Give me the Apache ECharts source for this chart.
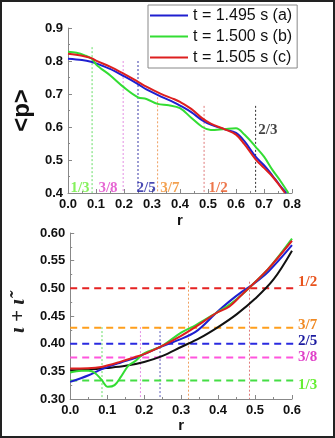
<!DOCTYPE html>
<html>
<head>
<meta charset="utf-8">
<script src="https://cdn.jsdelivr.net/npm/echarts@6/dist/echarts.min.js"></script>
<style>
  html, body { margin: 0; padding: 0; background: #fff; }
  #main { width: 335px; height: 438px; }
  #frame { position: absolute; left: 0; top: 0; width: 335px; height: 438px;
           box-sizing: border-box; border: 2px solid #222; pointer-events: none; }
</style>
</head>
<body>
<div id="main"></div>
<div id="frame"></div>
<script>
// ---- top panel: <p> vs r ----
const pRadiusA = [0, 0.05, 0.086, 0.1, 0.15, 0.2, 0.25, 0.28, 0.33, 0.38, 0.4, 0.44, 0.48, 0.51, 0.56, 0.6, 0.63, 0.67, 0.7, 0.73, 0.755, 0.78]
const pValueA  = [0.807, 0.803, 0.797, 0.793, 0.776, 0.754, 0.730, 0.714, 0.693, 0.674, 0.665, 0.645, 0.620, 0.607, 0.593, 0.582, 0.557, 0.510, 0.484, 0.453, 0.425, 0.400]
const pRadiusB = [0, 0.03, 0.06, 0.086, 0.1, 0.115, 0.15, 0.2, 0.25, 0.28, 0.32, 0.36, 0.4, 0.44, 0.48, 0.51, 0.56, 0.6, 0.63, 0.67, 0.7, 0.73, 0.76, 0.787]
const pValueB  = [0.828, 0.825, 0.817, 0.806, 0.790, 0.779, 0.757, 0.720, 0.690, 0.685, 0.670, 0.666, 0.657, 0.628, 0.600, 0.591, 0.594, 0.596, 0.577, 0.540, 0.510, 0.470, 0.435, 0.400]
const pRadiusC = [0, 0.05, 0.086, 0.1, 0.15, 0.2, 0.25, 0.28, 0.33, 0.38, 0.4, 0.44, 0.48, 0.51, 0.56, 0.6, 0.63, 0.67, 0.7, 0.73, 0.755, 0.775]
const pValueC  = [0.822, 0.816, 0.808, 0.801, 0.783, 0.761, 0.737, 0.722, 0.701, 0.684, 0.676, 0.655, 0.626, 0.610, 0.593, 0.577, 0.548, 0.502, 0.476, 0.450, 0.423, 0.400]

// rational surfaces marked in the top panel
const pMarkNames  = ['1/3', '3/8', '2/5', '3/7', '1/2', '2/3']
const pMarkRadius = [0.086, 0.197, 0.25, 0.32, 0.486, 0.67]
const pMarkTop    = [0.842, 0.80, 0.80, 0.69, 0.664, 0.664]
const pLabelR     = [0.043, 0.143, 0.279, 0.364, 0.536, 0.714]
const pLabelP     = [0.415, 0.415, 0.415, 0.415, 0.415, 0.591]
const pMarkColors  = ['#66dd66', '#e490e4', '#3a3aa8', '#f0a060', '#e07a7a', '#333333']
const pLabelColors = ['#66ee33', '#e040c8', '#1b1ba0', '#f08a24', '#e8541e', '#111111']

// ---- bottom panel: iota vs r ----
const qRadiusA = [0, 0.05, 0.084, 0.137, 0.173, 0.2, 0.245, 0.29, 0.34, 0.394, 0.43, 0.465, 0.492, 0.537, 0.6]
const qValueA  = [0.331, 0.343, 0.3535, 0.366, 0.3735, 0.381, 0.3945, 0.406, 0.4217, 0.455, 0.476, 0.494, 0.506, 0.531, 0.578]
const qRadiusB = [0, 0.03, 0.05, 0.066, 0.084, 0.102, 0.12, 0.137, 0.157, 0.175, 0.2, 0.245, 0.3, 0.34, 0.394, 0.43, 0.465, 0.492, 0.537, 0.6]
const qValueB  = [0.348, 0.351, 0.351, 0.3475, 0.3355, 0.322, 0.325, 0.340, 0.360, 0.368, 0.3826, 0.3945, 0.420, 0.4337, 0.455, 0.470, 0.489, 0.506, 0.536, 0.590]
const qRadiusC = [0, 0.048, 0.084, 0.137, 0.173, 0.2, 0.245, 0.3, 0.34, 0.394, 0.43, 0.465, 0.492, 0.537, 0.6]
const qValueC  = [0.355, 0.3555, 0.358, 0.3675, 0.3753, 0.381, 0.3945, 0.414, 0.4307, 0.455, 0.467, 0.489, 0.506, 0.536, 0.586]
const qRadiusD = [0, 0.05, 0.1, 0.15, 0.2, 0.25, 0.3, 0.35, 0.4, 0.45, 0.5, 0.55, 0.6]
const qValueD  = [0.352, 0.353, 0.356, 0.360, 0.367, 0.378, 0.394, 0.410, 0.430, 0.453, 0.481, 0.516, 0.568]

// rational iota values (horizontal dashed lines)
const iotaNames  = ['1/3', '3/8', '2/5', '3/7', '1/2']
const iotaValues = [1 / 3, 3 / 8, 2 / 5, 3 / 7, 1 / 2]
const iotaLineEnd = 0.625
const iotaColors = ['#44dd44', '#ff55dd', '#2a2ae0', '#ff9f1c', '#e52222']
const iotaLabelColors = ['#66ee33', '#e040c8', '#1b1ba0', '#f08a24', '#e8541e']
const iotaLabelShift = [5, 0, -3, -3, -6]

// vertical dotted lines in bottom panel
const qMarkRadius = [0.086, 0.19, 0.243, 0.32, 0.485]
const qMarkTop    = [0.43, 0.43, 0.43, 0.512, 0.512]
const qMarkColors = ['#66dd66', '#e490e4', '#5a5ab8', '#f0a060', '#e07a7a']

const legendNames = ['t = 1.495 s (a)', 't = 1.500 s (b)', 't = 1.505 s (c)']
const curveColors = ['#1f1fd0', '#33dd33', '#dd1f1f']

const FONT = 'Liberation Sans, Arial, sans-serif'
const SERIF = 'Liberation Serif, Times New Roman, serif'

function zip(xs, ys) {
  return xs.map((x, i) => [x, ys[i]])
}

function axisCommon() {
  return {
    axisLine: { lineStyle: { color: '#888', width: 1 } },
    axisTick: { inside: true, length: 4, lineStyle: { color: '#888' } },
    minorTick: { show: true, splitNumber: 2, length: 2, lineStyle: { color: '#888' } },
    splitLine: { show: false },
    axisLabel: { color: '#111', fontSize: 13, fontWeight: 'bold', fontFamily: FONT, margin: 5 }
  }
}

function curve(name, data, color, grid) {
  return {
    name: name, type: 'line', data: data,
    xAxisIndex: grid, yAxisIndex: grid,
    smooth: 0.35, showSymbol: false, z: 5,
    lineStyle: { color: color, width: 2 }, itemStyle: { color: color }
  }
}

function markLine(r, top, bottom, color, grid) {
  return {
    type: 'line', data: [[r, top], [r, bottom]],
    xAxisIndex: grid, yAxisIndex: grid, showSymbol: false, silent: true, z: 2,
    lineStyle: { color: color, width: 1, type: [2, 2] }
  }
}

const series = []
series.push(curve(legendNames[0], zip(pRadiusA, pValueA), curveColors[0], 0))
series.push(curve(legendNames[1], zip(pRadiusB, pValueB), curveColors[1], 0))
series.push(curve(legendNames[2], zip(pRadiusC, pValueC), curveColors[2], 0))

pMarkRadius.forEach((r, i) => {
  series.push(markLine(r, pMarkTop[i], 0.4, pMarkColors[i], 0))
  series.push({
    type: 'scatter', xAxisIndex: 0, yAxisIndex: 0, symbolSize: 0, silent: true,
    data: [[pLabelR[i], pLabelP[i]]],
    label: { show: true, position: 'inside', formatter: pMarkNames[i],
      color: pLabelColors[i], fontFamily: SERIF, fontWeight: 'bold', fontSize: 15 }
  })
})

qMarkRadius.forEach((r, i) => {
  series.push(markLine(r, qMarkTop[i], 0.3, qMarkColors[i], 1))
})

iotaValues.forEach((v, i) => {
  series.push({
    type: 'line', xAxisIndex: 1, yAxisIndex: 1, clip: false, silent: true, z: 3,
    data: [[0, v], [iotaLineEnd, v]], showSymbol: false,
    lineStyle: { color: iotaColors[i], width: 2, type: [7, 5] },
    endLabel: { show: true, formatter: iotaNames[i], distance: 4, offset: [0, iotaLabelShift[i]],
      color: iotaLabelColors[i], fontFamily: SERIF, fontWeight: 'bold', fontSize: 15 }
  })
})

series.push(curve('iota0', zip(qRadiusD, qValueD), '#111111', 1))
series.push(curve(legendNames[0], zip(qRadiusA, qValueA), curveColors[0], 1))
series.push(curve(legendNames[1], zip(qRadiusB, qValueB), curveColors[1], 1))
series.push(curve(legendNames[2], zip(qRadiusC, qValueC), curveColors[2], 1))

const option = {
  animation: false,
  backgroundColor: '#fff',
  grid: [
    { left: 68, top: 28, width: 224, height: 165 },
    { left: 68, top: 233, width: 224, height: 166 }
  ],
  legend: {
    data: legendNames, orient: 'vertical', left: 148, top: 5,
    icon: 'rect', itemWidth: 38, itemHeight: 2, itemGap: 4,
    padding: [2, 5, 2, 2], borderColor: '#888', borderWidth: 1, backgroundColor: '#fff',
    textStyle: { fontSize: 16, lineHeight: 17, color: '#111', fontFamily: FONT }
  },
  xAxis: [
    Object.assign(axisCommon(), {
      type: 'value', gridIndex: 0, min: 0, max: 0.8, interval: 0.1,
      name: 'r', nameLocation: 'middle', nameGap: 20,
      nameTextStyle: { fontSize: 15, fontWeight: 'bold', color: '#111', fontFamily: FONT }
    }),
    Object.assign(axisCommon(), {
      type: 'value', gridIndex: 1, min: 0, max: 0.6, interval: 0.1,
      name: 'r', nameLocation: 'middle', nameGap: 19,
      nameTextStyle: { fontSize: 15, fontWeight: 'bold', color: '#111', fontFamily: FONT }
    })
  ],
  yAxis: [
    Object.assign(axisCommon(), {
      type: 'value', gridIndex: 0, min: 0.4, max: 0.9, interval: 0.1,
      name: '<p>', nameLocation: 'middle', nameGap: 28, nameRotate: 90,
      nameTextStyle: { fontSize: 24, fontWeight: 'bold', color: '#111', fontFamily: FONT }
    }),
    Object.assign(axisCommon(), {
      type: 'value', gridIndex: 1, min: 0.3, max: 0.6, interval: 0.05,
      name: 'ι + ι̃', nameLocation: 'middle', nameGap: 40, nameRotate: 90,
      nameTextStyle: { fontSize: 21, fontStyle: 'italic', fontWeight: 'bold', color: '#222', fontFamily: SERIF }
    })
  ],
  series: series
}
option.xAxis.forEach(a => { a.axisLabel.formatter = v => v.toFixed(1) })
option.yAxis[0].axisLabel.formatter = v => v.toFixed(1)
option.yAxis[1].axisLabel.formatter = v => v.toFixed(2)

const chart = echarts.init(document.getElementById('main'), null, { renderer: 'canvas' })
chart.setOption(option)
</script>
</body>
</html>
